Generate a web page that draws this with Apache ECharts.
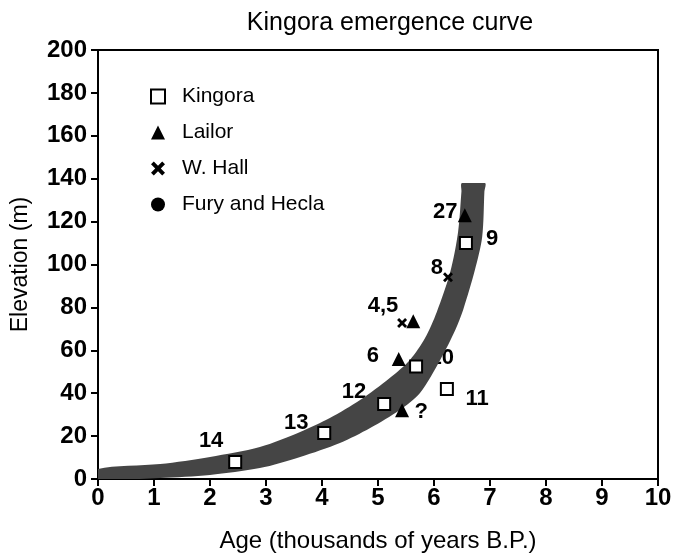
<!DOCTYPE html>
<html>
<head>
<meta charset="utf-8">
<script src="https://cdn.jsdelivr.net/npm/echarts@6/dist/echarts.min.js"></script>
<style>
  html, body { margin: 0; padding: 0; background: #fff; }
  #chart { width: 677px; height: 556px; }
</style>
</head>
<body>
<div id="chart"></div>
<script>
// emergence band: upper-left edge and lower-right edge
var bandUpper = [[0, 4.7], [1.11, 7.0], [2.0, 10.3], [2.89, 14.9], [3.61, 21.9], [4.14, 28.4],
  [4.68, 36.8], [5.21, 47.1], [5.57, 55.5], [5.84, 65.7], [6.05, 77.9], [6.29, 96.5], [6.43, 115.2],
  [6.49, 134], [6.5, 138]];
var bandLower = [[0, 0], [1.11, 0.5], [2.0, 1.9], [2.89, 5.1], [3.61, 10.3], [4.32, 16.8],
  [4.86, 23.8], [5.39, 32.2], [5.75, 40.1], [6.11, 55.5], [6.38, 69.5], [6.52, 78.8], [6.73, 97.4],
  [6.86, 112.8], [6.9, 134], [6.91, 138]];
var bandTop = 138;

var kingora = [[2.45, 7.9], [4.04, 21.4], [5.11, 35], [5.68, 52.5], [6.23, 42], [6.57, 110]];
var lailor = [[6.55, 123], [5.63, 73.5], [5.37, 56], [5.43, 32]];
var wHall = [[5.43, 72.7], [6.25, 94]];
var furyHecla = [];

// sample numbers written beside the points
var sampleLabels = [
  ['14', 2.02, 17.7], ['13', 3.54, 26.1], ['12', 4.57, 40.6], ['10', 6.14, 56.4],
  ['11', 6.77, 37.3], ['?', 5.77, 31.2], ['6', 4.91, 57.3], ['4,5', 5.09, 80.7],
  ['8', 6.05, 98.4], ['27', 6.2, 124.5], ['9', 7.04, 111.9]
];

var xTicks = [0, 10, 1];
var yTicks = [0, 200, 20];

var font = "'Liberation Sans', Arial, Helvetica, sans-serif";
var myCharts = echarts.init(document.getElementById('chart'));

var option = {
  animation: false,
  textStyle: { fontFamily: font, color: '#000' },
  title: {
    text: 'Kingora emergence curve',
    left: 385,
    top: 6,
    textAlign: 'center',
    textStyle: { fontFamily: font, fontSize: 25, fontWeight: 'normal', color: '#000' }
  },
  grid: {
    left: 98, right: 19, top: 50, bottom: 77,
    outerBoundsMode: 'none',
    containLabel: false,
    show: true, borderColor: '#000', borderWidth: 2
  },
  legend: {
    orient: 'vertical',
    left: 150,
    top: 86,
    padding: 0,
    itemWidth: 14,
    itemHeight: 14,
    itemGap: 15,
    data: ['Kingora', 'Lailor', 'W. Hall', 'Fury and Hecla'],
    textStyle: { fontFamily: font, fontSize: 21, color: '#000', padding: [0, 0, 0, 12] }
  },
  xAxis: {
    type: 'value',
    min: xTicks[0], max: xTicks[1], interval: xTicks[2],
    name: 'Age (thousands of years B.P.)',
    nameLocation: 'middle',
    nameGap: 50,
    nameTextStyle: { fontFamily: font, fontSize: 24, color: '#000' },
    axisLine: { lineStyle: { color: '#000', width: 2 } },
    axisTick: { length: 7, lineStyle: { color: '#000', width: 2 } },
    axisLabel: { margin: 7, fontFamily: font, fontSize: 24, fontWeight: 'bold', color: '#000' },
    splitLine: { show: false }
  },
  yAxis: {
    type: 'value',
    min: yTicks[0], max: yTicks[1], interval: yTicks[2],
    name: 'Elevation (m)',
    nameLocation: 'middle',
    nameGap: 66,
    nameTextStyle: { fontFamily: font, fontSize: 23, color: '#000' },
    axisLine: { lineStyle: { color: '#000', width: 2 } },
    axisTick: { length: 7, lineStyle: { color: '#000', width: 2 } },
    axisLabel: { margin: 11, fontFamily: font, fontSize: 24, fontWeight: 'bold', color: '#000' },
    splitLine: { show: false }
  },
  series: [
    {
      name: 'labels',
      type: 'scatter',
      symbolSize: 0,
      z: 1,
      silent: true,
      itemStyle: { opacity: 1 },
      data: sampleLabels.map(function (d) { return { value: [d[1], d[2]], name: d[0] }; }),
      label: {
        show: true,
        position: 'inside',
        formatter: '{b}',
        fontFamily: font,
        fontSize: 22,
        fontWeight: 'bold',
        color: '#000',
        opacity: 1,
        textBorderWidth: 0,
        textBorderColor: 'transparent'
      }
    },
    {
      name: 'band',
      type: 'custom',
      z: 2,
      silent: true,
      data: [[0, 0]],
      renderItem: function (params, api) {
        var pts = bandUpper.map(function (p) { return api.coord(p); });
        var low = bandLower.slice().reverse();
        low.forEach(function (p) { pts.push(api.coord(p)); });
        var tl = api.coord([0, bandTop]);
        var br = api.coord([10, 0]);
        return {
          type: 'polygon',
          shape: { points: pts, smooth: 0.3 },
          style: { fill: '#454545', stroke: null },
          clipPath: {
            type: 'rect',
            shape: { x: tl[0], y: tl[1], width: br[0] - tl[0], height: br[1] - tl[1] }
          }
        };
      }
    },
    {
      name: 'Kingora',
      type: 'scatter',
      z: 5,
      symbol: 'rect',
      symbolSize: 12,
      itemStyle: { color: '#fff', borderColor: '#000', borderWidth: 2, opacity: 1 },
      data: kingora
    },
    {
      name: 'Lailor',
      type: 'scatter',
      z: 5,
      symbol: 'triangle',
      symbolSize: 14,
      itemStyle: { color: '#000', opacity: 1 },
      data: lailor
    },
    {
      name: 'W. Hall',
      type: 'scatter',
      z: 5,
      symbol: 'path://M0,2L2,0L5,3L8,0L10,2L7,5L10,8L8,10L5,7L2,10L0,8L3,5Z',
      symbolSize: 10,
      itemStyle: { color: '#000', opacity: 1 },
      data: wHall
    },
    {
      name: 'Fury and Hecla',
      type: 'scatter',
      z: 5,
      symbol: 'circle',
      symbolSize: 11,
      itemStyle: { color: '#000', opacity: 1 },
      data: furyHecla
    }
  ]
};
myCharts.setOption(option);
</script>
</body>
</html>
